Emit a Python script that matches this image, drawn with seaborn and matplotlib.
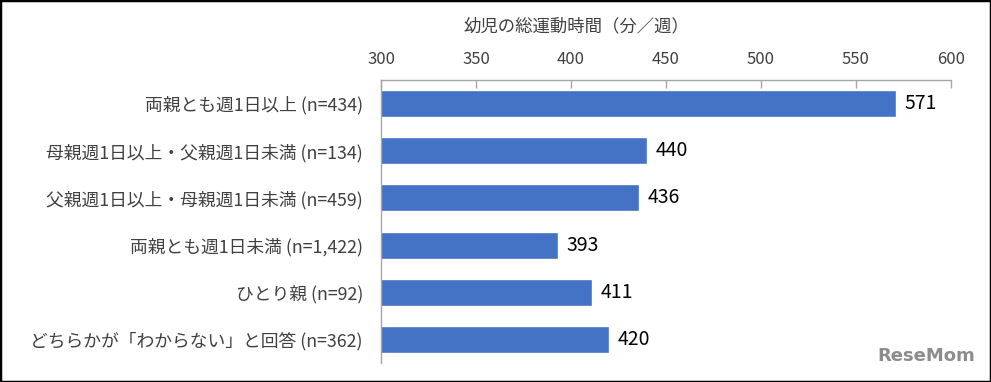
import matplotlib
matplotlib.use("Agg")
import matplotlib.pyplot as plt
import seaborn as sns
import pandas as pd
from matplotlib.patches import Rectangle

categories = [
    "両親とも週1日以上 (n=434)",
    "母親週1日以上・父親週1日未満 (n=134)",
    "父親週1日以上・母親週1日未満 (n=459)",
    "両親とも週1日未満 (n=1,422)",
    "ひとり親 (n=92)",
    "どちらかが「わからない」と回答 (n=362)",
]
values = [571, 440, 436, 393, 411, 420]
xticks = [300, 350, 400, 450, 500, 550, 600]
title = "幼児の総運動時間（分／週）"

sns.set_theme(style="white")
plt.rcParams['font.family'] = ['Noto Sans CJK JP', 'DejaVu Sans']

df = pd.DataFrame({"cat": categories, "val": values})

fig = plt.figure(figsize=(9.91, 3.82), dpi=100)
ax = fig.add_axes([381/991, 1-363/382, (951-381)/991, (363-80)/382])
sns.barplot(data=df, x="val", y="cat", color="#4472C4", saturation=1,
            width=0.57, ax=ax, orient="h")
ax.set_xlim(300, 600)
ax.set_xticks(xticks)
ax.xaxis.tick_top()
ax.tick_params(axis="x", direction="in", length=6, color="#A6A6A6", width=1,
               labelsize=12, labelcolor="#404040", pad=9, top=True, bottom=False)
ax.tick_params(axis="y", length=0, labelsize=12.8, labelcolor="#404040", pad=13)
ax.set_xlabel("")
ax.set_ylabel("")
for s in ["right", "bottom"]:
    ax.spines[s].set_visible(False)
for s in ["top", "left"]:
    ax.spines[s].set_color("#A6A6A6")
    ax.spines[s].set_linewidth(1)
for i, v in enumerate(values):
    ax.text(v + 4.5, i, str(v), va="center", ha="left", fontsize=14, color="#000000")
fig.text(576/991, 1-26/382, title, ha="center", va="center", fontsize=12.5, color="#404040")
fig.text(975/991, 1-356/382, "ReseMom", ha="right", va="center", fontsize=13,
         fontweight="bold", color="#8C8C8C", family=["DejaVu Sans"])
fig.patches.append(Rectangle((0, 0), 1, 1, transform=fig.transFigure, fill=False,
                             edgecolor="#000000", linewidth=2.5))
fig.savefig("out.png", dpi=100)
